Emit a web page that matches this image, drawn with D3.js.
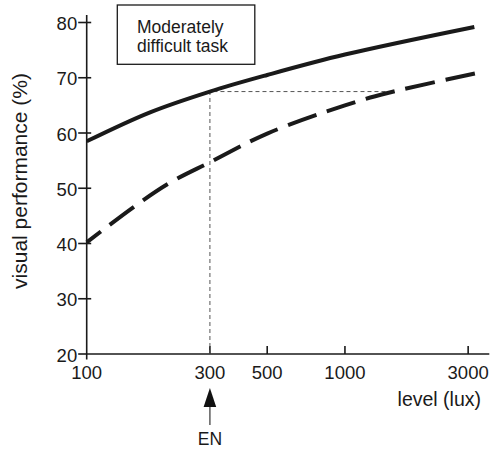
<!DOCTYPE html>
<html><head><meta charset="utf-8">
<script src="https://cdn.jsdelivr.net/npm/d3@7"></script>
<style>
html,body{margin:0;padding:0;background:#fff;}
svg{display:block;font-family:"Liberation Sans",Arial,Helvetica,sans-serif;}
</style></head>
<body>
<svg id="chart" width="496" height="451"></svg>
<script>
// ---- data ----
const solidLux   = [100, 175, 300, 500, 1000, 3170];
const solidPerf  = [58.5, 63.7, 67.5, 70.5, 74.2, 79.2];
const dashedLux  = [100, 154, 210, 300, 500, 1000, 1450, 3370];
const dashedPerf = [40.2, 46.8, 51.0, 54.7, 59.9, 65.0, 67.2, 71.0];
const xTicks = [100, 300, 500, 1000, 3000];
const yTicks = [20, 30, 40, 50, 60, 70, 80];
const refLux = 300, refPerf = 67.5, refEndLux = 1450;
const boxLines = ["Moderately", "difficult task"];
const xTitle = "level (lux)";
const yTitle = "visual performance (%)";
const markLabel = "EN";

// ---- scales ----
const svg = d3.select("#chart");
const x = d3.scaleLog().domain([100, Math.pow(10, 3.559)]).range([86.7, 489.3]);
const y = d3.scaleLinear().domain([20, 80]).range([354, 22.5]);
const axisTopVal = 81.35;

const ink = "#1a1a1a";
// y axis
const gy = svg.append("g").attr("transform", `translate(${x(100)},0)`);
gy.append("line").attr("x1",0).attr("x2",0).attr("y1",y(axisTopVal)).attr("y2",y(20)+5.5)
  .attr("stroke",ink).attr("stroke-width",1.6);
gy.selectAll("line.t").data(yTicks).join("line").attr("class","t")
  .attr("x1",-8.5).attr("x2",d=>d===20?0:4.5)
  .attr("y1",d=>y(d)).attr("y2",d=>y(d)).attr("stroke",ink).attr("stroke-width",1.6);
gy.selectAll("text").data(yTicks).join("text")
  .attr("x",-9.5).attr("y",d=>y(d)+1).attr("text-anchor","end").attr("dominant-baseline","central")
  .attr("font-size",18.5).attr("fill",ink).text(d=>d);

// x axis
const gx = svg.append("g").attr("transform", `translate(0,${y(20)})`);
gx.append("line").attr("x1",x(100)).attr("x2",x.range()[1]).attr("y1",0).attr("y2",0)
  .attr("stroke",ink).attr("stroke-width",1.6);
gx.selectAll("line.t").data(xTicks.filter(d=>d!==100)).join("line").attr("class","t")
  .attr("x1",d=>x(d)).attr("x2",d=>x(d)).attr("y1",-8).attr("y2",0)
  .attr("stroke",ink).attr("stroke-width",1.6);
gx.selectAll("text").data(xTicks).join("text")
  .attr("x",d=>x(d)).attr("y",25).attr("text-anchor","middle")
  .attr("font-size",18.5).attr("fill",ink).text(d=>d);

// axis titles
svg.append("text").attr("x",481).attr("y",406).attr("text-anchor","end")
  .attr("font-size",19.5).attr("fill",ink).text(xTitle);
svg.append("text").attr("transform","translate(27,181) rotate(-90)").attr("text-anchor","middle")
  .attr("font-size",21).attr("fill",ink).text(yTitle);

// reference lines
svg.append("path")
  .attr("d", `M${x(refLux)},${y(20)}V${y(refPerf)}H${x(refEndLux)}`)
  .attr("fill","none").attr("stroke","#555").attr("stroke-width",1).attr("stroke-dasharray","4,3");

// curves
const line = d3.line().x(d=>x(d[0])).y(d=>y(d[1])).curve(d3.curveCatmullRom.alpha(0.5));
svg.append("path").datum(solidLux.map((l,i)=>[l,solidPerf[i]]))
  .attr("d",line).attr("fill","none").attr("stroke",ink).attr("stroke-width",4);
svg.append("path").datum(dashedLux.map((l,i)=>[l,dashedPerf[i]]))
  .attr("d",line).attr("fill","none").attr("stroke",ink).attr("stroke-width",4)
  .attr("stroke-dasharray","30,11").attr("stroke-dashoffset",12);

// text box
svg.append("rect").attr("x",117.3).attr("y",5).attr("width",137.5).attr("height",59.3)
  .attr("fill","#fff").attr("stroke",ink).attr("stroke-width",1.3);
svg.selectAll("text.box").data(boxLines).join("text").attr("class","box")
  .attr("x",137).attr("y",(d,i)=>33+i*19.3).attr("font-size",17.5).attr("fill",ink).text(d=>d);

// EN arrow
const ax = x(refLux);
svg.append("line").attr("x1",ax).attr("x2",ax).attr("y1",405).attr("y2",425)
  .attr("stroke","#444").attr("stroke-width",1.3);
svg.append("path").attr("d",`M${ax},388L${ax-6.3},407L${ax+6.3},407Z`).attr("fill","#111");
svg.append("text").attr("x",ax).attr("y",445).attr("text-anchor","middle")
  .attr("font-size",17.5).attr("fill",ink).text(markLabel);
</script>
</body></html>
